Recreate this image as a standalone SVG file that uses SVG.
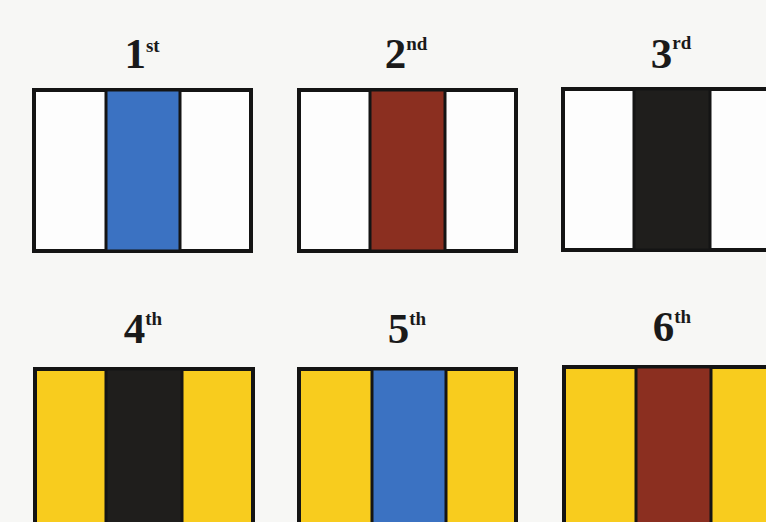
<svg xmlns="http://www.w3.org/2000/svg" width="766" height="522" viewBox="0 0 766 522">
<style>
.bg{fill:#f7f7f5}
.frame{stroke:#141414;stroke-width:4}
.stripe{stroke:#141414;stroke-width:3}
.w{fill:#fdfdfd}
.y{fill:#f8cc1e}
.blue{fill:#3b72c2}
.brown{fill:#8b2f20}
.black{fill:#1f1e1c}
.lbl{font-family:"Liberation Serif",serif;font-weight:bold;font-size:43px;fill:#1a1a1a}
.sup{font-size:19px}
</style>
<rect class="bg" x="0" y="0" width="766" height="522"/>
<g id="flag1">
<text class="lbl" x="142" y="68" text-anchor="middle">1<tspan class="sup" dy="-16">st</tspan></text>
<rect class="frame w" x="34" y="90" width="217" height="161"/>
<rect class="stripe blue" x="106" y="90" width="74" height="161"/>
</g>
<g id="flag2">
<text class="lbl" x="406" y="68" text-anchor="middle">2<tspan class="sup" dy="-18">nd</tspan></text>
<rect class="frame w" x="299" y="90" width="217" height="161"/>
<rect class="stripe brown" x="370" y="90" width="75" height="161"/>
</g>
<g id="flag3">
<text class="lbl" x="671" y="68" text-anchor="middle">3<tspan class="sup" dy="-19">rd</tspan></text>
<rect class="frame w" x="563" y="89" width="221" height="161"/>
<rect class="stripe black" x="634" y="89" width="76" height="161"/>
</g>
<g id="flag4">
<text class="lbl" x="143" y="343" text-anchor="middle">4<tspan class="sup" dy="-18">th</tspan></text>
<rect class="frame y" x="35" y="369" width="218" height="170"/>
<rect class="stripe black" x="106" y="369" width="76" height="170"/>
</g>
<g id="flag5">
<text class="lbl" x="407" y="343" text-anchor="middle">5<tspan class="sup" dy="-18">th</tspan></text>
<rect class="frame y" x="299" y="369" width="217" height="170"/>
<rect class="stripe blue" x="372" y="369" width="74" height="170"/>
</g>
<g id="flag6">
<text class="lbl" x="672" y="341" text-anchor="middle">6<tspan class="sup" dy="-18">th</tspan></text>
<rect class="frame y" x="564" y="367" width="221" height="170"/>
<rect class="stripe brown" x="636" y="367" width="75" height="170"/>
</g>
</svg>
